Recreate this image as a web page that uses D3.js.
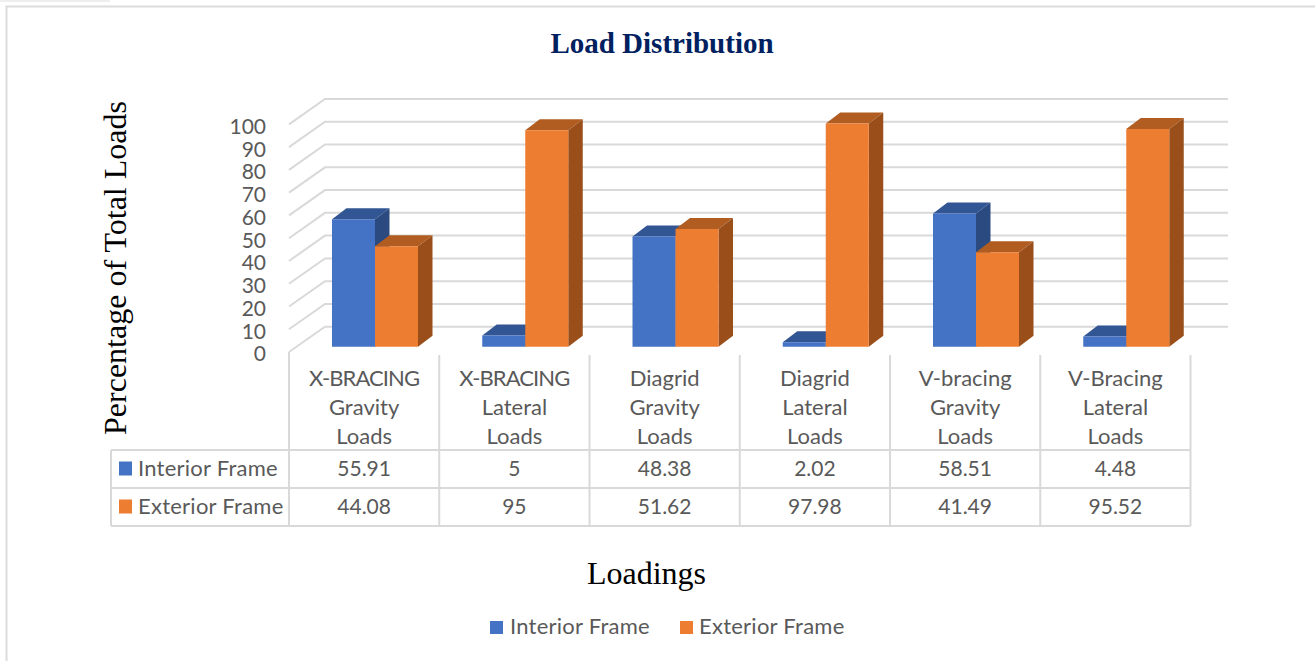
<!DOCTYPE html>
<html><head><meta charset="utf-8">
<script src="https://cdn.jsdelivr.net/npm/d3@7/dist/d3.min.js"></script>
<style>html,body{margin:0;padding:0;background:#fff;overflow:hidden}svg{display:block}
.sans{font-family:Lato,"Open Sans",sans-serif;fill:#595959}
.serif{font-family:"Liberation Serif",serif}</style></head>
<body><svg id="c" width="1315" height="661"></svg>
<script>
const categories=[["X-BRACING","Gravity","Loads"],["X-BRACING","Lateral","Loads"],["Diagrid","Gravity","Loads"],["Diagrid","Lateral","Loads"],["V-bracing","Gravity","Loads"],["V-Bracing","Lateral","Loads"]];
const interiorFrame=[55.91,5,48.38,2.02,58.51,4.48];
const exteriorFrame=[44.08,95,51.62,97.98,41.49,95.52];
const interiorLabels=["55.91","5","48.38","2.02","58.51","4.48"];
const exteriorLabels=["44.08","95","51.62","97.98","41.49","95.52"];
const seriesNames=["Interior Frame","Exterior Frame"];
const yTicks=[0,10,20,30,40,50,60,70,80,90,100];
const title="Load Distribution",yTitle="Percentage of Total Loads",xTitle="Loadings";

const svg=d3.select("#c");
const GRID="#d9d9d9",FS=21;
const colors=[{front:"#4472c4",top:"#325594",side:"#2b4a80"},{front:"#ed7d31",top:"#b15d21",side:"#9a4f1a"}];
const series=[interiorFrame,exteriorFrame];

svg.append("rect").attr("x",0).attr("y",0).attr("width",110).attr("height",2).attr("fill","#eeeeee");
svg.append("path").attr("d","M6.5,661V6.5H1315").attr("fill","none").attr("stroke","#dcdcdc").attr("stroke-width",2);

const x=d3.scaleBand().domain(d3.range(6)).range([289,1190.5]).padding(0);
const yWall=d3.scaleLinear().domain([0,100]).range([352,124.4]);
const yBar=d3.scaleLinear().domain([0,100]).range([346.8,118.8]);
const yBack=d3.scaleLinear().domain([0,100]).range([326.7,99]);
const wallX=36, backRight=1228;

// walls
const g=svg.append("g").attr("fill","none").attr("stroke",GRID).attr("stroke-width",2);
yTicks.forEach(t=>{
  g.append("path").attr("d",`M${x(0)},${yWall(t)}L${x(0)+wallX},${yBack(t)}L${backRight},${yBack(t)}`);
});
// y labels
svg.append("g").selectAll("text").data(yTicks).join("text").attr("class","sans")
 .attr("x",266).attr("y",d=>yWall(d)+2).attr("dy","0.35em").attr("text-anchor","end").attr("font-size",FS).text(d=>d);

// bars
const inner=d3.scaleBand().domain([0,1]).range([0,86]);
const barOffset=43, dx=14.5, dy=11;
const bars=svg.append("g");
categories.forEach((c,i)=>{
  series.forEach((s,k)=>{
    const X0=x(i)+barOffset+inner(k),X1=X0+inner.bandwidth(),Y0=yBar(0),Y1=yBar(s[i]);
    const col=colors[k];
    bars.append("path").attr("fill",col.top).attr("d",`M${X0},${Y1}L${X0+dx},${Y1-dy}L${X1+dx},${Y1-dy}L${X1},${Y1}Z`);
    bars.append("path").attr("fill",col.side).attr("d",`M${X1},${Y1}L${X1+dx},${Y1-dy}L${X1+dx},${Y0-dy}L${X1},${Y0}Z`);
    bars.append("path").attr("fill",col.front).attr("d",`M${X0},${Y1}L${X1},${Y1}L${X1},${Y0}L${X0},${Y0}Z`);
  });
});

// table
const t=svg.append("g").attr("stroke",GRID).attr("stroke-width",2).attr("fill","none");
const rows=[450,488,526];
rows.forEach(r=>t.append("line").attr("x1",111).attr("x2",x.range()[1]).attr("y1",r).attr("y2",r));
t.append("line").attr("x1",111).attr("x2",111).attr("y1",450).attr("y2",526);
d3.range(7).forEach(i=>{const X=x(0)+i*x.bandwidth();
  t.append("line").attr("x1",X).attr("x2",X).attr("y1",i?355:352).attr("y2",526);});
categories.forEach((c,i)=>{
  const cx=x(i)+x.bandwidth()/2;
  c.forEach((l,j)=>svg.append("text").attr("class","sans").attr("x",cx).attr("y",[378,407,436][j]).attr("dy","0.35em")
    .attr("text-anchor","middle").attr("font-size",FS+1).attr("letter-spacing",l===l.toUpperCase()?-0.9:0).text(l));
  [interiorLabels,exteriorLabels].forEach((a,k)=>svg.append("text").attr("class","sans").attr("x",cx).attr("y",[469,507][k]).attr("dy","0.35em")
    .attr("text-anchor","middle").attr("font-size",FS).text(a[i]));
});
seriesNames.forEach((n,k)=>{
  const ry=[468.5,506.5][k];
  svg.append("rect").attr("x",119).attr("y",ry-7).attr("width",13).attr("height",14).attr("fill",colors[k].front);
  svg.append("text").attr("class","sans").attr("x",138).attr("y",ry).attr("dy","0.35em").attr("font-size",FS+1).attr("letter-spacing",0.25).text(n);
});
// titles
svg.append("text").attr("class","serif").attr("x",662).attr("y",43).attr("dy","0.35em").attr("text-anchor","middle")
 .attr("font-size",29).attr("font-weight","bold").attr("fill","#002060").text(title);
svg.append("text").attr("class","serif").attr("transform","translate(115,268) rotate(-90)").attr("dy","0.35em").attr("text-anchor","middle")
 .attr("font-size",32).attr("fill","#000").text(yTitle);
svg.append("text").attr("class","serif").attr("x",646.5).attr("y",573).attr("dy","0.35em").attr("text-anchor","middle")
 .attr("font-size",32).attr("fill","#000").text(xTitle);
// legend
[[490,510],[680,699]].forEach((p,k)=>{
  svg.append("rect").attr("x",p[0]).attr("y",621).attr("width",13).attr("height",13).attr("fill",colors[k].front);
  svg.append("text").attr("class","sans").attr("x",p[1]).attr("y",626.5).attr("dy","0.35em").attr("font-size",FS+1).attr("letter-spacing",0.25).text(seriesNames[k]);
});
</script></body></html>
